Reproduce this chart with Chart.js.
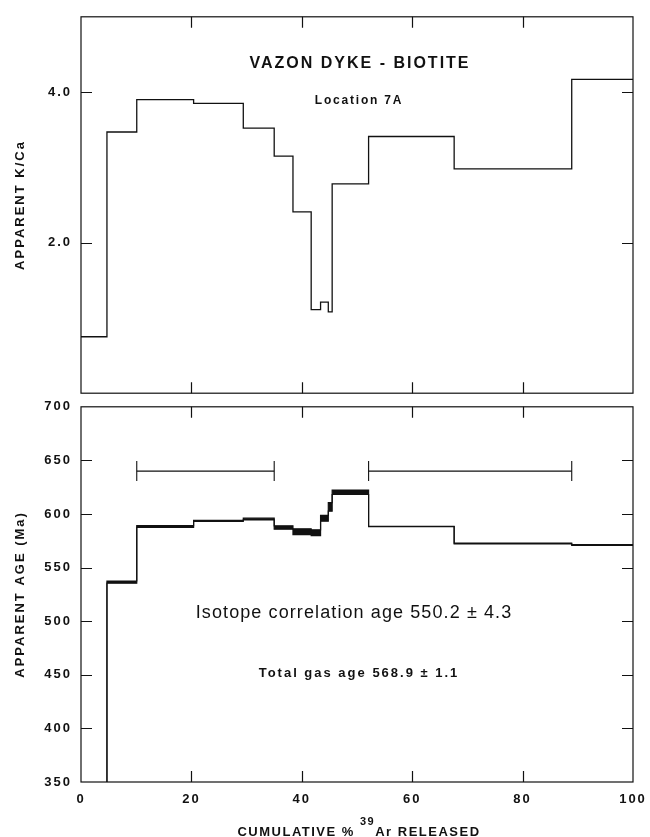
<!DOCTYPE html>
<html>
<head>
<meta charset="utf-8">
<script src="https://cdn.jsdelivr.net/npm/chart.js"></script>
<style>
  html, body { margin: 0; padding: 0; background: #fff; }
  #wrap { position: relative; width: 650px; height: 837px; }
  canvas { position: absolute; left: 0; }
  #kcaChart { top: 0; }
  #ageChart { top: 390px; }
</style>
</head>
<body>
<div id="wrap">
  <canvas id="kcaChart" width="650" height="410"></canvas>
  <canvas id="ageChart" width="650" height="447"></canvas>
</div>
<script>
// heating steps: edges in cumulative % 39Ar released
const stepEdges = [0, 4.7, 10.1, 20.4, 29.4, 35.0, 38.4, 41.7, 43.4, 44.8, 45.5, 52.1, 67.6, 88.9, 100];
// one value per step
const kcaValues = [0.75, 3.47, 3.90, 3.85, 3.52, 3.15, 2.41, 1.11, 1.21, 1.08, 2.78, 3.41, 2.98, 4.17];
const ageValues = [330, 536.5, 588.3, 593.5, 595.3, 587.4, 583.5, 582.5, 596.0, 606.6, 620.3, 588.3, 572.5, 571.0];
const ageErrors = [0, 1.0, 0.8, 0.5, 0.8, 1.6, 2.7, 2.7, 2.7, 4.0, 2.1, 0.1, 0.4, 0.4];
// plateau brackets
const plateauStarts = [10.1, 52.1];
const plateauEnds = [35.0, 88.9];
const plateauLevel = 640;
// ticks
const pctTicks = [0, 20, 40, 60, 80, 100];
const kcaTicks = [2, 4];
const ageTicks = [350, 400, 450, 500, 550, 600, 650, 700];

const INK = '#111';
const FONT = '"Liberation Sans", Arial, sans-serif';

// point at the left edge of each step, plus one closing point at 100 %
function stepPoints(values) {
  const pts = values.map((v, i) => ({ x: stepEdges[i], y: v }));
  pts.push({ x: stepEdges[stepEdges.length - 1], y: values[values.length - 1] });
  return pts;
}

const spacing = {
  id: 'spacing',
  beforeUpdate(chart) { chart.ctx.letterSpacing = '2px'; },
  beforeDraw(chart) { chart.ctx.letterSpacing = '2px'; }
};

// box round the plot + inward tick marks on all four sides
const frame = {
  id: 'frame',
  afterDatasetsDraw(chart) {
    const { ctx, chartArea: a, scales } = chart;
    const len = 11;
    ctx.save();
    ctx.strokeStyle = INK;
    ctx.lineWidth = 1.2;
    ctx.strokeRect(a.left, a.top, a.right - a.left, a.bottom - a.top);
    ctx.beginPath();
    scales.x.ticks.forEach(t => {
      if (t.value <= scales.x.min || t.value >= scales.x.max) return;
      const px = Math.round(scales.x.getPixelForValue(t.value)) + 0.5;
      ctx.moveTo(px, a.top); ctx.lineTo(px, a.top + len);
      ctx.moveTo(px, a.bottom); ctx.lineTo(px, a.bottom - len);
    });
    scales.y.ticks.forEach(t => {
      if (t.value <= scales.y.min || t.value >= scales.y.max) return;
      const py = Math.round(scales.y.getPixelForValue(t.value)) + 0.5;
      ctx.moveTo(a.left, py); ctx.lineTo(a.left + len, py);
      ctx.moveTo(a.right, py); ctx.lineTo(a.right - len, py);
    });
    ctx.stroke();
    ctx.restore();
  }
};

const notes = {
  id: 'notes',
  afterDraw(chart, args, opts) {
    const ctx = chart.ctx;
    ctx.save();
    ctx.fillStyle = INK;
    ctx.textBaseline = 'alphabetic';
    ctx.textAlign = 'left';
    (opts.items || []).forEach(n => {
      // n.parts: runs of text with own font and raise
      const parts = n.parts || [{ text: n.text, font: n.font, dy: 0 }];
      let total = 0;
      parts.forEach(p => {
        ctx.font = p.font;
        ctx.letterSpacing = n.spacing + 'px';
        p.w = ctx.measureText(p.text).width;
        total += p.w;
      });
      let x = n.x - total / 2;
      parts.forEach(p => {
        ctx.font = p.font;
        ctx.letterSpacing = n.spacing + 'px';
        ctx.fillText(p.text, x, n.y + (p.dy || 0));
        x += p.w;
      });
    });
    ctx.restore();
  }
};

const tickFont = { family: FONT, size: 13, weight: 'bold' };
const titleFont = { family: FONT, size: 13, weight: 'bold' };

new Chart(document.getElementById('kcaChart'), {
  type: 'line',
  data: {
    datasets: [{
      data: stepPoints(kcaValues),
      stepped: 'before',
      borderColor: INK,
      borderWidth: 1.3,
      pointRadius: 0,
      fill: false
    }]
  },
  options: {
    responsive: false,
    animation: false,
    layout: { padding: { top: 12, bottom: 10, left: 0, right: 17 } },
    plugins: {
      legend: { display: false },
      tooltip: { enabled: false },
      notes: {
        items: [
          { text: 'VAZON DYKE - BIOTITE', font: 'bold 16px ' + FONT, spacing: 2, x: 360, y: 68 },
          { text: 'Location 7A', font: 'bold 12px ' + FONT, spacing: 1.8, x: 359, y: 104 }
        ]
      }
    },
    scales: {
      x: {
        type: 'linear', min: 0, max: 100,
        afterBuildTicks: s => { s.ticks = pctTicks.map(v => ({ value: v })); },
        ticks: { display: false },
        grid: { display: false, drawTicks: false },
        border: { display: false },
        afterFit: s => { s.height = 0; s.paddingLeft = 0; s.paddingRight = 0; }
      },
      y: {
        min: 0, max: 5,
        afterBuildTicks: s => { s.ticks = kcaTicks.map(v => ({ value: v })); },
        ticks: { callback: v => v.toFixed(1), font: tickFont, color: INK, padding: 9 },
        grid: { display: false, drawTicks: false },
        border: { display: false },
        title: { display: true, text: 'APPARENT K/Ca', font: titleFont, color: INK, padding: { top: 13, bottom: 0 } },
        afterFit: s => { s.width = 81; }
      }
    }
  },
  plugins: [spacing, frame, notes]
});

const ageDatasets = [
  {
    data: stepPoints(ageValues.map((v, i) => v + ageErrors[i])),
    stepped: 'before', borderColor: INK, borderWidth: 1.2, pointRadius: 0, fill: false
  },
  {
    data: stepPoints(ageValues.map((v, i) => v - ageErrors[i])),
    stepped: 'before', borderColor: INK, borderWidth: 1.2, pointRadius: 0,
    fill: '-1', backgroundColor: INK
  }
];
plateauStarts.forEach((s, i) => {
  ageDatasets.push({
    data: [{ x: s, y: plateauLevel }, { x: plateauEnds[i], y: plateauLevel }],
    borderColor: INK, borderWidth: 1.1, fill: false,
    pointStyle: 'line', pointRadius: 10, pointRotation: 90,
    pointBorderColor: INK, pointBorderWidth: 1.1
  });
});

new Chart(document.getElementById('ageChart'), {
  type: 'line',
  data: { datasets: ageDatasets },
  options: {
    responsive: false,
    animation: false,
    layout: { padding: { top: 10, bottom: 0, left: 0, right: 17 } },
    plugins: {
      legend: { display: false },
      tooltip: { enabled: false },
      notes: {
        items: [
          { text: 'Isotope correlation age 550.2 \u00b1 4.3', font: '18px ' + FONT, spacing: 1.1, x: 354, y: 228 },
          { text: 'Total gas age 568.9 \u00b1 1.1', font: 'bold 13px ' + FONT, spacing: 2, x: 359, y: 287 },
          {
            spacing: 1.5, x: 359, y: 446,
            parts: [
              { text: 'CUMULATIVE % ', font: 'bold 13px ' + FONT, dy: 0 },
              { text: '39', font: 'bold 11px ' + FONT, dy: -11 },
              { text: 'Ar RELEASED', font: 'bold 13px ' + FONT, dy: 0 }
            ]
          }
        ]
      }
    },
    scales: {
      x: {
        type: 'linear', min: 0, max: 100,
        afterBuildTicks: s => { s.ticks = pctTicks.map(v => ({ value: v })); },
        ticks: { font: tickFont, color: INK, padding: 10, maxRotation: 0 },
        grid: { display: false, drawTicks: false },
        border: { display: false },
        afterFit: s => { s.height = 55; s.paddingLeft = 0; s.paddingRight = 0; }
      },
      y: {
        min: 350, max: 700,
        afterBuildTicks: s => { s.ticks = ageTicks.map(v => ({ value: v })); },
        ticks: { font: tickFont, color: INK, padding: 9 },
        grid: { display: false, drawTicks: false },
        border: { display: false },
        title: { display: true, text: 'APPARENT AGE (Ma)', font: titleFont, color: INK, padding: { top: 13, bottom: 0 } },
        afterFit: s => { s.width = 81; }
      }
    }
  },
  plugins: [spacing, frame, notes]
});
</script>
</body>
</html>
